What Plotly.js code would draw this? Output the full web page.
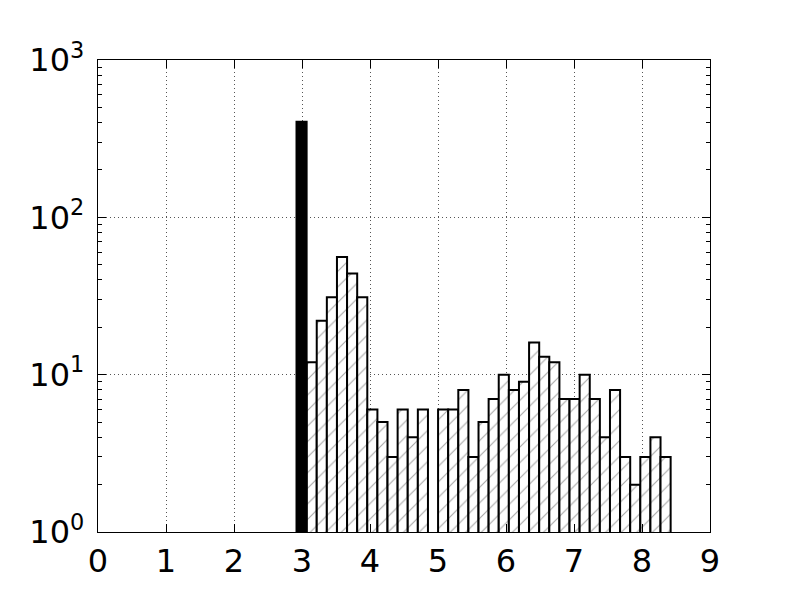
<!DOCTYPE html>
<html>
<head>
<meta charset="utf-8">
<script src="https://cdn.plot.ly/plotly-3.0.1.min.js"></script>
<style>
  html, body { margin: 0; padding: 0; background: #fff; }
  #chart { width: 789px; height: 592px; }
</style>
</head>
<body>
<div id="chart"></div>
<script>
// histogram bins
var binStart = 3.068;
var binWidth = 0.1487;
var counts = [12, 22, 31, 56, 44, 31, 6, 5, 3, 6, 4, 6, null, 6, 6, 8, 3, 5, 7, 10,
              8, 9, 16, 13, 12, 7, 7, 10, 7, 4, 8, 3, 2, 3, 4, 3];

// the single filled bar just below 3
var peakX = [binStart - binWidth / 2];
var peakY = [405];

var centers = counts.map(function (c, i) { return binStart + binWidth * (i + 0.5); });

var yTickVals = [1, 10, 100, 1000];
var yTickText = ['10<sup>0</sup>', '10<sup>1</sup>', '10<sup>2</sup>', '10<sup>3</sup>'];

var minorVals = [];
[1, 10, 100].forEach(function (d) {
  for (var k = 2; k <= 9; k++) minorVals.push(k * d);
});

var data = [
  {
    x: centers, y: counts, type: 'bar', width: binWidth,
    marker: {
      color: 'white',
      line: { color: 'black', width: 2 },
      pattern: { shape: '/', fgcolor: '#a8a8a8', bgcolor: 'white', size: 11, solidity: 0.1 }
    }
  },
  {
    x: peakX, y: peakY, type: 'bar', width: binWidth,
    marker: { color: 'black', line: { color: 'black', width: 2 } }
  }
];

var axisFont = { family: 'DejaVu Sans', size: 32, color: 'black' };

var layout = {
  width: 789, height: 592,
  margin: { l: 98, r: 79, t: 60, b: 60 },
  paper_bgcolor: 'white', plot_bgcolor: 'white',
  showlegend: false,
  barmode: 'overlay',
  font: axisFont,
  xaxis: {
    range: [0, 9], dtick: 1, tick0: 0,
    showline: true, linecolor: 'black', linewidth: 1.3, mirror: 'allticks',
    ticks: 'inside', ticklen: 8, tickcolor: 'black', tickwidth: 1,
    showgrid: true, gridcolor: '#555', gridwidth: 1, griddash: '1px,3px',
    zeroline: false, tickfont: axisFont, ticklabelstandoff: 0
  },
  yaxis: {
    type: 'log', range: [0, 3],
    tickmode: 'array', tickvals: yTickVals, ticktext: yTickText,
    showline: true, linecolor: 'black', linewidth: 1.3, mirror: 'allticks',
    ticks: 'inside', ticklen: 8, tickcolor: 'black', tickwidth: 1,
    showgrid: true, gridcolor: '#555', gridwidth: 1, griddash: '1px,3px',
    zeroline: false, tickfont: axisFont, ticklabelstandoff: 6,
    minor: { tickmode: 'array', tickvals: minorVals, ticks: 'inside', ticklen: 4,
             tickcolor: 'black', showgrid: false }
  }
};

Plotly.newPlot('chart', data, layout, { displayModeBar: false, staticPlot: true });
</script>
</body>
</html>
